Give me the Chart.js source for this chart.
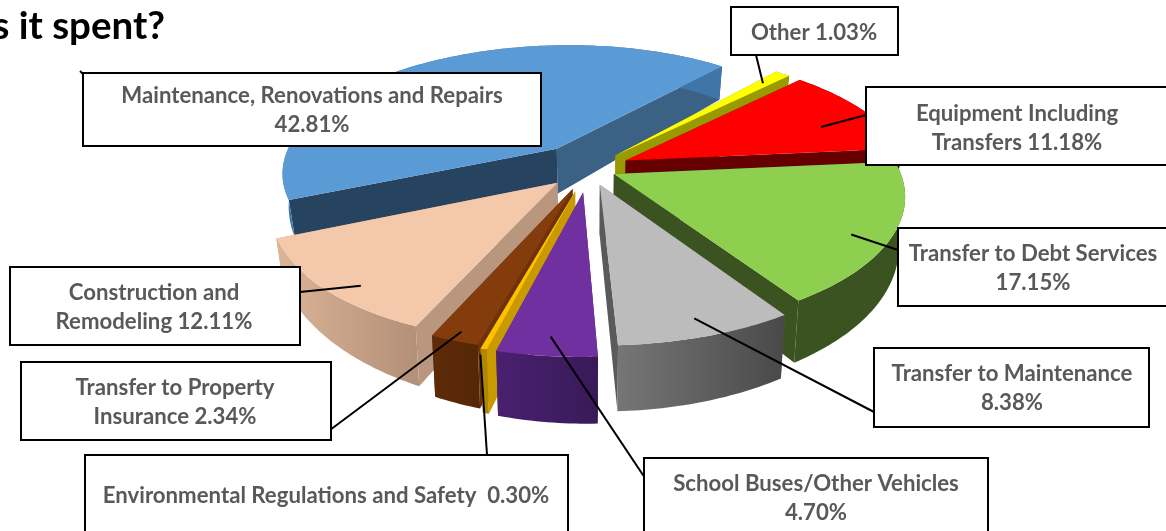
<!DOCTYPE html>
<html>
<head>
<meta charset="utf-8">
<style>html,body{margin:0;padding:0;background:#fff;overflow:hidden}canvas{display:block}</style>
<script src="https://cdn.jsdelivr.net/npm/chart.js@4"></script>
</head>
<body>
<canvas id="c" width="1166" height="531"></canvas>
<script>
const categories = ["Other","Equipment Including Transfers","Transfer to Debt Services","Transfer to Maintenance","School Buses/Other Vehicles","Environmental Regulations and Safety","Transfer to Property Insurance","Construction and Remodeling","Maintenance, Renovations and Repairs"];
const values = [1.03,11.18,17.15,8.38,4.70,0.30,2.34,12.11,42.81];
const topColors = ["#ffff00","#ff0000","#8fcf50","#bcbcbc","#7030a0","#ffc000","#843c0c","#f4c8aa","#5b9bd5"];
const startFaceColors = ["#999900","#660000","#3b5320","#5a5a5a","#4a2070","#c99a00","#6e3209","#b8977e","#26435f"];
const endFaceColors = ["#999900","#660000","#3b5320","#5a5a5a","#4a2070","#c99a00","#6e3209","#b8977e","#3b6185"];
const wallLeft = ["#999900","#660000","#3b5320","#767676","#4a2070","#b08600","#5e2b08","#dcb498","#3f75a8"];
const wallRight = ["#999900","#660000","#3b5320","#494949","#381a58","#b08600","#552706","#b39078","#3f75a8"];
const explode = [0.142,0.147,0.1,0.13,0.183,0.18,0.165,0.152,0.2];
const drawOrder = [8,0,1,2,7,6,5,4,3];
const anchorRadius = [0.87,0.78,0.88,0.9,0.9,1.03,0.95,0.91,0.9];
const anchorFrac = [0.5,0.62,0.56,0.5,0.5,0.5,0.5,0.4,0.5];
const labelLines = [
  ["Other {v}"],
  ["Equipment Including","Transfers {v}"],
  ["Transfer to Debt Services","{v}"],
  ["Transfer to Maintenance","{v}"],
  ["School Buses/Other Vehicles","{v}"],
  ["Environmental Regulations and Safety  {v}"],
  ["Transfer to Property","Insurance {v}"],
  ["Construction and","Remodeling {v}"],
  ["Maintenance, Renovations and Repairs","{v}"]
];
// layout of the label boxes: [left, top, right, bottom, textCentreX, firstLineCentreY, leaderEndX, leaderEndY]
const labelLayout = [
  [731,7,898,55,814,33,756,55],
  [866,87,1172,165,1017,114,866,115],
  [898,228,1172,306,1033,254,898,250],
  [874,348,1149,427,1012,374,874,412],
  [644,458,988,540,816,484,645,478],
  [85,455,568,540,326,496,487,455],
  [21,362,331,440,175,388,330,430],
  [10,267,300,345,154,293,300,292],
  [83,73,541,146,312,96,80,71]
];
const titleText = "s it spent?";

// camera for the tilted pie
const cam = {cx:588.5, cy:168.6, f:280, s:17, r:-10, p:127, k:0.17};
function project(X, Y, bottom) {
  const w = 1 - cam.k * Y;
  let x = cam.cx + (cam.f * X + cam.s * Y) / w;
  let y = cam.cy + (cam.r * X + cam.p * Y) / w;
  if (bottom) {
    x -= 0.02 * (x - 590);
    y += 48 + 16 * Y - (X < 0 ? 12 : 2) * X * X;
  }
  return [x, y];
}
function poly(ctx, pts, fill) {
  ctx.beginPath();
  pts.forEach((p, i) => i ? ctx.lineTo(p[0], p[1]) : ctx.moveTo(p[0], p[1]));
  ctx.closePath();
  ctx.fillStyle = fill;
  ctx.fill();
}
const pie3d = {
  id: 'pie3d',
  beforeDatasetsDraw(chart) {
    const ctx = chart.ctx;
    const arcs = chart.getDatasetMeta(0).data;
    const geom = i => {
      const a = arcs[i];
      const mid = (a.startAngle + a.endAngle) / 2;
      return {a, ex: explode[i] * Math.cos(mid), ey: explode[i] * Math.sin(mid)};
    };
    ctx.save();
    drawOrder.forEach(i => {
      const {a, ex, ey} = geom(i);
      const n = Math.max(2, Math.ceil((a.endAngle - a.startAngle) * 60));
      const rim = [];
      for (let j = 0; j <= n; j++) {
        const t = a.startAngle + (a.endAngle - a.startAngle) * j / n;
        rim.push([ex + Math.cos(t), ey + Math.sin(t)]);
      }
      const topRim = rim.map(p => project(p[0], p[1], false));
      const botRim = rim.map(p => project(p[0], p[1], true));
      const apexT = project(ex, ey, false), apexB = project(ex, ey, true);
      poly(ctx, [apexT, topRim[0], botRim[0], apexB], startFaceColors[i]);
      poly(ctx, [apexT, topRim[n], botRim[n], apexB], endFaceColors[i]);
      const xs = topRim.map(p => p[0]);
      const g = ctx.createLinearGradient(Math.min(...xs), 0, Math.max(...xs), 0);
      g.addColorStop(0, wallLeft[i]);
      g.addColorStop(1, wallRight[i]);
      poly(ctx, topRim.concat(botRim.slice().reverse()), g);
      poly(ctx, [apexT].concat(topRim), a.options.backgroundColor);
    });
    // leader lines
    ctx.strokeStyle = '#000';
    ctx.lineWidth = 2;
    arcs.forEach((a, i) => {
      const {ex, ey} = geom(i);
      const L = labelLayout[i];
      const ang = a.startAngle + (a.endAngle - a.startAngle) * anchorFrac[i];
      const q = i === 8 ? [83, 74] : project(ex + anchorRadius[i] * Math.cos(ang), ey + anchorRadius[i] * Math.sin(ang), false);
      ctx.beginPath();
      ctx.moveTo(q[0], q[1]);
      ctx.lineTo(L[6], L[7]);
      ctx.stroke();
    });
    // label boxes
    arcs.forEach((a, i) => {
      const L = labelLayout[i];
      ctx.fillStyle = '#fff';
      ctx.fillRect(L[0], L[1], L[2] - L[0], L[3] - L[1]);
      ctx.strokeRect(L[0], L[1], L[2] - L[0], L[3] - L[1]);
      ctx.fillStyle = '#595959';
      ctx.font = 'bold 22.2px Lato';
      ctx.textAlign = 'center';
      ctx.textBaseline = 'middle';
      labelLines[i].forEach((s, k) => {
        ctx.fillText(s.replace('{v}', values[i].toFixed(2) + '%'), L[4], L[5] + k * 29);
      });
    });
    ctx.fillStyle = '#000';
    ctx.font = 'bold 38.5px Lato';
    ctx.textAlign = 'right';
    ctx.textBaseline = 'middle';
    ctx.fillText(titleText, 165, 27);
    ctx.restore();
    return false;
  }
};
new Chart(document.getElementById('c'), {
  type: 'pie',
  data: {labels: categories, datasets: [{data: values, backgroundColor: topColors, borderWidth: 0}]},
  options: {
    responsive: false,
    animation: false,
    rotation: 45,
    plugins: {legend: {display: false}, tooltip: {enabled: false}, title: {display: false}}
  },
  plugins: [pie3d]
});
</script>
</body>
</html>
